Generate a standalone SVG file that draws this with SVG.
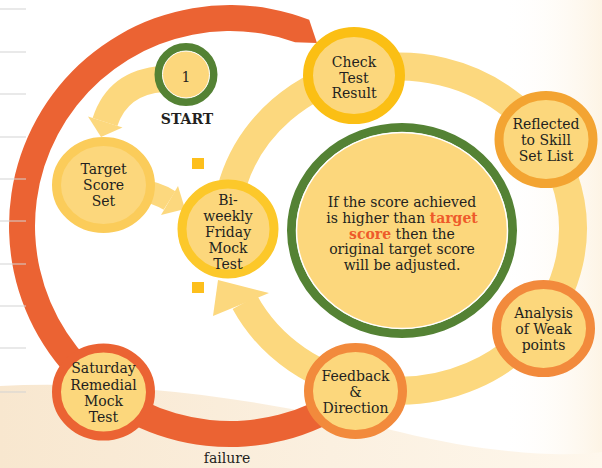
<svg xmlns="http://www.w3.org/2000/svg" width="602" height="468" viewBox="0 0 602 468">
<defs>
<linearGradient id="bgBottom" x1="0" y1="0" x2="1" y2="0">
<stop offset="0" stop-color="#F8E7CF"/>
<stop offset="0.55" stop-color="#FBF0E0"/>
<stop offset="1" stop-color="#FEF7EC"/>
</linearGradient>
<linearGradient id="bgRight" x1="0" y1="0" x2="1" y2="0">
<stop offset="0" stop-color="#FFFFFF" stop-opacity="0"/>
<stop offset="1" stop-color="#FDF4E5"/>
</linearGradient>
</defs>
<style>
.t{font-family:"DejaVu Serif",serif;font-size:14px;fill:#231F20;text-anchor:middle}
.hl{fill:#EE5A2A;font-weight:bold}
.nf{fill:#FCD77C}
.ring{stroke-width:9}
.yband{fill:none;stroke:#FCD87E}
.yhead{fill:#FCD87E}
.grid{stroke:#D3D3D3;stroke-width:1}
.sq{fill:#FDBF1C}
</style>
<rect width="602" height="468" fill="#FFFFFF"/>
<rect x="500" y="0" width="102" height="468" fill="url(#bgRight)"/>
<path d="M0 386 C120 380 260 398 400 432 C480 452 560 458 602 452 L602 468 L0 468 Z" fill="url(#bgBottom)"/>

<g id="connectors">
<path id="failure-loop" d="M386.3 382.3 A221 221 0 1 1 309.2 19.7 L317 43 L295.1 42.2 A195 195 0 1 0 367.9 363.9 Z" fill="#EB6333"/>
<path id="main-cycle" class="yband" stroke-width="28" d="M228.6 256.9 A173.5 162 0 1 1 244.9 302.3"/>
<polygon class="yhead" points="269,293 218,280 213,316"/>
<path id="start-arrow" class="yband" stroke-width="26" d="M163 79 Q118 82 105 122"/>
<polygon class="yhead" points="88,116.4 122.5,127.6 101,137"/>
<path id="target-arrow" class="yband" stroke-width="22" d="M138 190 Q156 192 169.5 200.5"/>
<polygon class="yhead" points="178,186 161,215 185,209"/>
</g>

<g id="grid-lines">
<line class="grid" x1="0" y1="9" x2="26" y2="9"/>
<line class="grid" x1="0" y1="52" x2="26" y2="52"/>
<line class="grid" x1="0" y1="94" x2="26" y2="94"/>
<line class="grid" x1="0" y1="137" x2="26" y2="137"/>
<line class="grid" x1="0" y1="179" x2="26" y2="179"/>
<line class="grid" x1="0" y1="221" x2="26" y2="221"/>
<line class="grid" x1="0" y1="264" x2="26" y2="264"/>
<line class="grid" x1="0" y1="306" x2="26" y2="306"/>
<line class="grid" x1="0" y1="348" x2="26" y2="348"/>
<line class="grid" x1="0" y1="392" x2="26" y2="392"/>
</g>

<g id="markers">
<rect class="sq" x="192" y="158" width="12" height="11"/>
<rect class="sq" x="192" y="282" width="12" height="11"/>
</g>

<g id="center-note">
<ellipse cx="402" cy="230.5" rx="110.5" ry="103" fill="none" stroke="#548234" stroke-width="9"/>
<ellipse cx="402" cy="230.5" rx="105.5" ry="98" class="nf" stroke="#FFFFFF" stroke-width="1.5"/>
<text class="t" x="402" y="207">If the score achieved</text>
<text class="t" x="402" y="223">is higher than <tspan class="hl">target</tspan></text>
<text class="t" x="402" y="238.5"><tspan class="hl">score</tspan> then the</text>
<text class="t" x="402" y="254">original target score</text>
<text class="t" x="402" y="270">will be adjusted.</text>
</g>

<g id="start">
<circle cx="186" cy="74.5" r="27.5" fill="none" stroke="#548234" stroke-width="8"/>
<circle cx="186" cy="74.5" r="23.5" class="nf" stroke="#FFFFFF" stroke-width="1"/>
<text class="t" x="186" y="82">1</text>
<text class="t" x="187" y="124" font-weight="bold" font-size="13.5">START</text>
</g>

<g id="target-score-set">
<ellipse cx="103.5" cy="185" rx="47" ry="43.5" class="nf ring" stroke="#FBCC5A"/>
<text class="t" x="103.5" y="174">Target</text>
<text class="t" x="103.5" y="190">Score</text>
<text class="t" x="103.5" y="206">Set</text>
</g>

<g id="biweekly-mock-test">
<ellipse cx="228" cy="229" rx="46" ry="45" class="nf ring" stroke="#FCC82A"/>
<text class="t" x="228" y="205">Bi-</text>
<text class="t" x="228" y="221">weekly</text>
<text class="t" x="228" y="237">Friday</text>
<text class="t" x="228" y="253">Mock</text>
<text class="t" x="228" y="269">Test</text>
</g>

<g id="check-test-result">
<ellipse cx="354" cy="75.5" rx="46" ry="43.5" class="nf" stroke="#FBBF14" stroke-width="10"/>
<text class="t" x="354" y="67">Check</text>
<text class="t" x="354" y="82.5">Test</text>
<text class="t" x="354" y="98">Result</text>
</g>

<g id="reflected-skill-set">
<ellipse cx="546" cy="139.5" rx="47" ry="44" class="nf ring" stroke="#F3A432"/>
<text class="t" x="546" y="129">Reflected</text>
<text class="t" x="546" y="145">to Skill</text>
<text class="t" x="546" y="160.5">Set List</text>
</g>

<g id="analysis-weak-points">
<ellipse cx="543.5" cy="328.5" rx="47" ry="44" class="nf ring" stroke="#F28A3C"/>
<text class="t" x="543.5" y="318">Analysis</text>
<text class="t" x="543.5" y="334">of Weak</text>
<text class="t" x="543.5" y="350">points</text>
</g>

<g id="feedback-direction">
<ellipse cx="355.5" cy="391" rx="47" ry="43.5" class="nf ring" stroke="#F28A3C"/>
<text class="t" x="355.5" y="380.5">Feedback</text>
<text class="t" x="355.5" y="397">&amp;</text>
<text class="t" x="355.5" y="412.5">Direction</text>
</g>

<g id="saturday-remedial">
<ellipse cx="103.5" cy="392" rx="47" ry="44" class="nf ring" stroke="#EB6333"/>
<text class="t" x="103.5" y="373">Saturday</text>
<text class="t" x="103.5" y="390">Remedial</text>
<text class="t" x="103.5" y="406">Mock</text>
<text class="t" x="103.5" y="422">Test</text>
</g>

<text class="t" x="227" y="463">failure</text>
</svg>
